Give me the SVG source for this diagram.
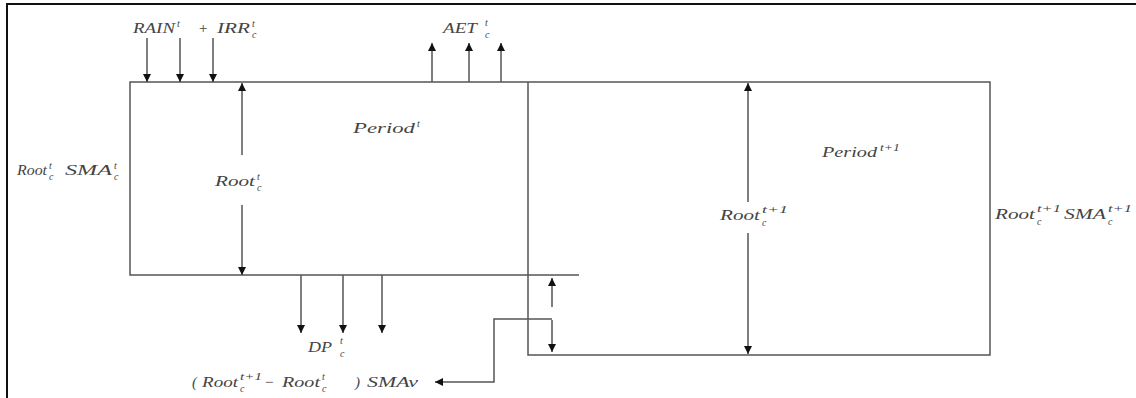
<svg xmlns="http://www.w3.org/2000/svg" width="1136" height="398" viewBox="0 0 1136 398">
<style>
.ln{fill:none;stroke:#555;stroke-width:1.5}
.fr{fill:none;stroke:#111;stroke-width:2}
.ar{fill:none;stroke:#555;stroke-width:1.5;marker-end:url(#ah)}
text{font-family:"Liberation Serif","Times New Roman",serif;font-style:italic;fill:#444;font-size:15px}
.s{font-size:10px}
</style>
<defs>
<marker id="ah" markerUnits="userSpaceOnUse" markerWidth="8" markerHeight="8" refX="8" refY="4" orient="auto">
<path d="M0,0 L8,4 L0,8 z" fill="#111"/>
</marker>
</defs>
<rect width="1136" height="398" fill="#fff"/>
<path class="fr" d="M7,398 V4 H1136"/>
<g id="period-t">
<path class="ln" d="M528,82 H130 V275 H579"/>
<text x="353" y="133" textLength="62" lengthAdjust="spacingAndGlyphs">Period</text>
<text class="s" x="417" y="127">t</text>
</g>
<g id="period-t1">
<path class="ln" d="M528,82 H990 V355 H528 V82"/>
<text x="822" y="157" textLength="55" lengthAdjust="spacingAndGlyphs">Period</text>
<text class="s" x="880" y="151" textLength="20" lengthAdjust="spacingAndGlyphs">t+1</text>
</g>
<g id="label-rain">
<text x="133" y="33" textLength="42" lengthAdjust="spacingAndGlyphs">RAIN</text>
<text class="s" x="177" y="27">t</text>
<text x="198" y="33">+</text>
<text x="217" y="33" textLength="33" lengthAdjust="spacingAndGlyphs">IRR</text>
<text class="s" x="252" y="27">t</text>
<text class="s" x="252" y="38">c</text>
</g>
<g id="label-aet">
<text x="443" y="33" textLength="34" lengthAdjust="spacingAndGlyphs">AET</text>
<text class="s" x="485" y="26">t</text>
<text class="s" x="485" y="38">c</text>
</g>
<g id="label-left">
<text x="17" y="175" textLength="30" lengthAdjust="spacingAndGlyphs">Root</text>
<text class="s" x="49" y="169">t</text>
<text class="s" x="49" y="180">c</text>
<text x="65" y="175" textLength="47" lengthAdjust="spacingAndGlyphs">SMA</text>
<text class="s" x="114" y="169">t</text>
<text class="s" x="114" y="180">c</text>
</g>
<g id="label-root-t">
<text x="215" y="186" textLength="40" lengthAdjust="spacingAndGlyphs">Root</text>
<text class="s" x="257" y="180">t</text>
<text class="s" x="257" y="191">c</text>
</g>
<g id="label-root-t1">
<text x="720" y="220" textLength="40" lengthAdjust="spacingAndGlyphs">Root</text>
<text class="s" x="762" y="213" textLength="26" lengthAdjust="spacingAndGlyphs">t+1</text>
<text class="s" x="762" y="226">c</text>
</g>
<g id="label-right">
<text x="995" y="219" textLength="40" lengthAdjust="spacingAndGlyphs">Root</text>
<text class="s" x="1037" y="212" textLength="24" lengthAdjust="spacingAndGlyphs">t+1</text>
<text class="s" x="1037" y="225">c</text>
<text x="1064" y="219" textLength="42" lengthAdjust="spacingAndGlyphs">SMA</text>
<text class="s" x="1108" y="212" textLength="24" lengthAdjust="spacingAndGlyphs">t+1</text>
<text class="s" x="1108" y="225">c</text>
</g>
<g id="label-dp">
<text x="308" y="352" textLength="24" lengthAdjust="spacingAndGlyphs">DP</text>
<text class="s" x="340" y="344">t</text>
<text class="s" x="340" y="357">c</text>
</g>
<g id="label-smav">
<text x="192" y="387">(</text>
<text x="202" y="387" textLength="36" lengthAdjust="spacingAndGlyphs">Root</text>
<text class="s" x="240" y="380" textLength="22" lengthAdjust="spacingAndGlyphs">t+1</text>
<text class="s" x="240" y="392">c</text>
<text x="264" y="387">−</text>
<text x="282" y="387" textLength="38" lengthAdjust="spacingAndGlyphs">Root</text>
<text class="s" x="322" y="380">t</text>
<text class="s" x="322" y="392">c</text>
<text x="355" y="387">)</text>
<text x="367" y="387" textLength="51" lengthAdjust="spacingAndGlyphs">SMAv</text>
</g>
<g id="connectors">
<line class="ar" x1="147" y1="38" x2="147" y2="82"/>
<line class="ar" x1="180" y1="38" x2="180" y2="82"/>
<line class="ar" x1="213" y1="38" x2="213" y2="82"/>
<line class="ar" x1="432" y1="82" x2="432" y2="43"/>
<line class="ar" x1="469" y1="82" x2="469" y2="43"/>
<line class="ar" x1="501" y1="82" x2="501" y2="43"/>
<line class="ar" x1="242" y1="155" x2="242" y2="83"/>
<line class="ar" x1="242" y1="205" x2="242" y2="275"/>
<line class="ar" x1="748" y1="202" x2="748" y2="83"/>
<line class="ar" x1="748" y1="233" x2="748" y2="354"/>
<line class="ar" x1="301" y1="275" x2="301" y2="333"/>
<line class="ar" x1="343" y1="275" x2="343" y2="333"/>
<line class="ar" x1="382" y1="275" x2="382" y2="333"/>
<line class="ar" x1="552" y1="307" x2="552" y2="278"/>
<line class="ar" x1="552" y1="320" x2="552" y2="352"/>
<path class="ar" d="M552,319 H494 V382 H435"/>
</g>
</svg>
